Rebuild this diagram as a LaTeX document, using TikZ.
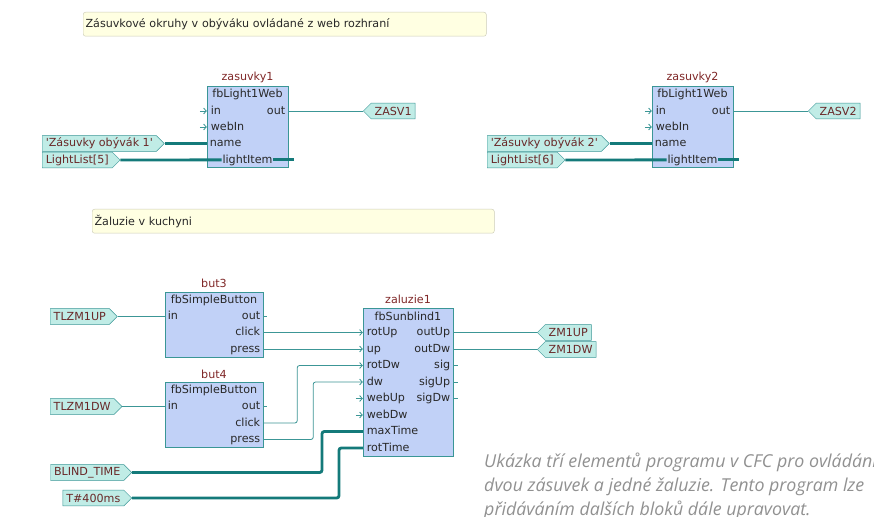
\documentclass[tikz,border=0pt]{standalone}
\usepackage{fontspec}
\setmainfont{DejaVu Sans}
\newfontfamily\capfont{Open Sans}
\usetikzlibrary{arrows.meta,shapes.symbols,fit}
\NewDocumentCommand\cfc{}{\fontsize{9.5}{11}\selectfont}
\definecolor{blkfill}{RGB}{193,209,247}
\definecolor{blkline}{RGB}{58,150,150}
\definecolor{wirecol}{RGB}{60,150,150}
\definecolor{buscol}{RGB}{20,122,122}
\definecolor{iofill}{RGB}{192,236,230}
\definecolor{iotext}{RGB}{105,40,40}
\definecolor{ttlcol}{RGB}{128,40,40}
\definecolor{pintext}{RGB}{40,40,40}
\definecolor{notefill}{RGB}{255,255,226}
\definecolor{noteline}{RGB}{205,205,185}

\begin{document}
\begin{tikzpicture}[x=0.03cm,y=-0.03cm,
    blk/.style={draw=blkline,fill=blkfill,inner sep=0pt},
    ttl/.style={font=\cfc,text=ttlcol,inner sep=0.5pt},
    pinc/.style={font=\cfc,text=pintext,inner sep=0.5pt},
    pinl/.style={pinc,anchor=mid west},
    pinr/.style={pinc,anchor=mid east},
    invar/.style={signal,signal to=east,draw=blkline,fill=iofill,text=iotext,font=\cfc,
        minimum height=0.47cm,inner xsep=3pt,inner ysep=0pt},
    outvar/.style={invar,signal to=west},
    wire/.style={draw=wirecol,line width=0.7pt,rounded corners=2pt},
    bus/.style={draw=buscol,line width=2.4pt,rounded corners=2pt},
    chev/.style={-{Straight Barb[length=2.2pt,width=5pt]}},
    note/.style={draw=noteline,fill=notefill,rounded corners=2pt,font=\cfc,text=pintext,
        align=left,inner xsep=2pt,inner ysep=0pt,minimum height=0.72cm,anchor=north west},
    capt/.style={font=\capfont\itshape\fontsize{15.2}{18}\selectfont,text=black!43,anchor=base west,inner sep=0pt}]
    \useasboundingbox (0,0) rectangle (874,517);
    \clip (0,0) rectangle (874,517);
    \fill[white] (0,0) rectangle (874,517);

    % komentare
    \node[note,text width=11.95cm] (n1) at (83,12) {Zásuvkové okruhy v obýváku ovládané z web rozhraní};
    \node[note,text width=11.92cm] (n2) at (92,209) {Žaluzie v kuchyni};

    % zasuvky1
    \node[blk,fit={(207,86) (288,167)}] (z1) {};
    \node[ttl] (z1t) at (247.5,77) {zasuvky1};
    \node[pinc] (z1fb) at (247.5,94) {fbLight1Web};
    \node[pinl] (z1in) at (210,111) {in};
    \node[pinr] (z1out) at (286,111) {out};
    \node[pinl] (z1web) at (210,127) {webIn};
    \node[pinl] (z1name) at (209,143.5) {name};
    \node[pinc] (z1li) at (247.5,160) {lightItem};
    \node[invar,anchor=west] (zo1) at (42,143.5) {\textquotesingle Zásuvky obývák 1\textquotesingle};
    \node[invar,anchor=west] (ll5) at (42,160) {LightList[5]};
    \node[outvar,anchor=west] (zasv1) at (363,111) {ZASV1};
    \draw[wire,chev] (z1in.mid west -| z1.west) ++(-7,0) -- +(7,0);
    \draw[wire,chev] (z1web.mid west -| z1.west) ++(-7,0) -- +(7,0);
    \draw[wire] (z1out.mid east -| z1.east) -- (zasv1.west);
    \draw[bus] (zo1.east) -- (z1name.mid west -| z1.west);
    \draw[bus] (ll5.east) -- (z1li.mid west);
    \draw[bus] (z1li.mid east) -- (z1li.mid east -| z1.east) -- ++(6,0);

    % zasuvky2
    \node[blk,fit={(652,86) (733,167)}] (z2) {};
    \node[ttl] (z2t) at (692.5,77) {zasuvky2};
    \node[pinc] (z2fb) at (692.5,94) {fbLight1Web};
    \node[pinl] (z2in) at (655,111) {in};
    \node[pinr] (z2out) at (731,111) {out};
    \node[pinl] (z2web) at (655,127) {webIn};
    \node[pinl] (z2name) at (654,143.5) {name};
    \node[pinc] (z2li) at (692.5,160) {lightItem};
    \node[invar,anchor=west] (zo2) at (487,143.5) {\textquotesingle Zásuvky obývák 2\textquotesingle};
    \node[invar,anchor=west] (ll6) at (487,160) {LightList[6]};
    \node[outvar,anchor=west] (zasv2) at (808,111) {ZASV2};
    \draw[wire,chev] (z2in.mid west -| z2.west) ++(-7,0) -- +(7,0);
    \draw[wire,chev] (z2web.mid west -| z2.west) ++(-7,0) -- +(7,0);
    \draw[wire] (z2out.mid east -| z2.east) -- (zasv2.west);
    \draw[bus] (zo2.east) -- (z2name.mid west -| z2.west);
    \draw[bus] (ll6.east) -- (z2li.mid west);
    \draw[bus] (z2li.mid east) -- (z2li.mid east -| z2.east) -- ++(6,0);

    % tlacitka
    \node[blk,fit={(165,292) (263,357)}] (b3) {};
    \node[ttl] (b3t) at (214,283) {but3};
    \node[pinc] (b3fb) at (214,300) {fbSimpleButton};
    \node[pinl] (b3in) at (167,316.5) {in};
    \node[pinr] (b3out) at (261,316.5) {out};
    \node[pinr] (b3click) at (261,332.5) {click};
    \node[pinr] (b3press) at (261,349) {press};

    \node[blk,fit={(165,382) (263,447)}] (b4) {};
    \node[ttl] (b4t) at (214,374) {but4};
    \node[pinc] (b4fb) at (214,390) {fbSimpleButton};
    \node[pinl] (b4in) at (167,406.5) {in};
    \node[pinr] (b4out) at (261,406.5) {out};
    \node[pinr] (b4click) at (261,423) {click};
    \node[pinr] (b4press) at (261,439.5) {press};

    \node[invar,anchor=west] (tlup) at (50,316.5) {TLZM1UP};
    \node[invar,anchor=west] (tldw) at (50,406.5) {TLZM1DW};
    \draw[wire] (tlup.east) -- (b3in.mid west -| b3.west);
    \draw[wire] (tldw.east) -- (b4in.mid west -| b4.west);
    \draw[wire] (b3out.mid east -| b3.east) -- ++(4,0);
    \draw[wire] (b4out.mid east -| b4.east) -- ++(4,0);

    % zaluzie1
    \node[blk,fit={(363,308) (453,456)}] (zal) {};
    \node[ttl] (zalt) at (408,299) {zaluzie1};
    \node[pinc] (zfb) at (408,316) {fbSunblind1};
    \node[pinl] (zrotup) at (366,332.5) {rotUp};
    \node[pinl] (zup) at (366,349) {up};
    \node[pinl] (zrotdw) at (366,365.5) {rotDw};
    \node[pinl] (zdw) at (366,382) {dw};
    \node[pinl] (zwebup) at (366,398.5) {webUp};
    \node[pinl] (zwebdw) at (366,415) {webDw};
    \node[pinl] (zmax) at (366,431.5) {maxTime};
    \node[pinl] (zrot) at (366,448) {rotTime};
    \node[pinr] (zoutup) at (451,332.5) {outUp};
    \node[pinr] (zoutdw) at (451,349) {outDw};
    \node[pinr] (zsig) at (451,365.5) {sig};
    \node[pinr] (zsigup) at (451,382) {sigUp};
    \node[pinr] (zsigdw) at (451,398.5) {sigDw};

    \draw[wire,chev] (b3click.mid east -| b3.east) -- (zrotup.mid west -| zal.west);
    \draw[wire,chev] (b3press.mid east -| b3.east) -- (zup.mid west -| zal.west);
    \draw[wire,chev] (b4click.mid east -| b4.east) -- ++(34,0) |- (zrotdw.mid west -| zal.west);
    \draw[wire,chev] (b4press.mid east -| b4.east) -- ++(50,0) |- (zdw.mid west -| zal.west);
    \draw[wire,chev] (zwebup.mid west -| zal.west) ++(-7,0) -- +(7,0);
    \draw[wire,chev] (zwebdw.mid west -| zal.west) ++(-7,0) -- +(7,0);

    \node[invar,anchor=east] (blind) at (132,472.5) {BLIND\_TIME};
    \node[invar,anchor=east] (t400) at (132,498) {T\#400ms};
    \draw[bus] (blind.east) -- ++(190,0) |- (zmax.mid west -| zal.west);
    \draw[bus] (t400.east) -- ++(207,0) |- (zrot.mid west -| zal.west);

    \node[outvar,anchor=west] (zm1up) at (537,332.5) {ZM1UP};
    \node[outvar,anchor=west] (zm1dw) at (537,349.5) {ZM1DW};
    \draw[wire] (zoutup.mid east -| zal.east) -- (zm1up.west);
    \draw[wire] (zoutdw.mid east -| zal.east) -- (zm1dw.west |- zoutdw.mid east);
    \draw[wire] (zsig.mid east -| zal.east) -- ++(5,0);
    \draw[wire] (zsigup.mid east -| zal.east) -- ++(5,0);
    \draw[wire] (zsigdw.mid east -| zal.east) -- ++(5,0);

    % popis
    \node[capt] (cap1) at (484,467) {Ukázka tří elementů programu v CFC pro ovládání};
    \node[capt] (cap2) at (484,491) {dvou zásuvek a jedné žaluzie. Tento program lze};
    \node[capt] (cap3) at (484,515) {přidáváním dalších bloků dále upravovat.};
\end{tikzpicture}
\end{document}
